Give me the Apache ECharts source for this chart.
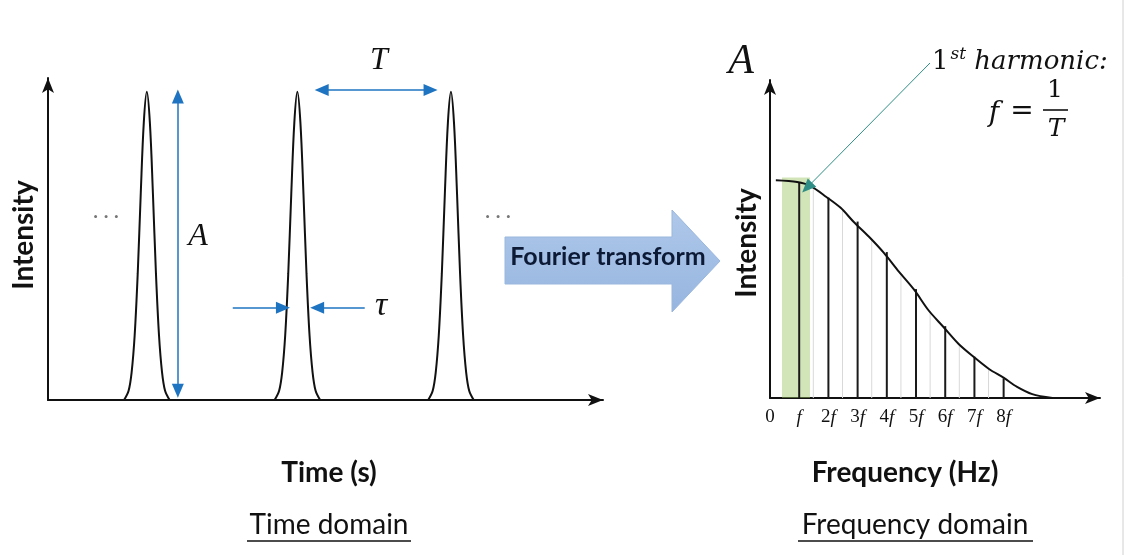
<!DOCTYPE html>
<html><head><meta charset="utf-8">
<script src="https://cdn.jsdelivr.net/npm/echarts@6/dist/echarts.min.js"></script>
<style>html,body{margin:0;padding:0;background:#fff}#c{width:1133px;height:555px}</style>
</head><body><div id="c"></div>
<script>
// ---- time domain (pulse train) ----
const pulseCenters = [0.65, 1.64, 2.65];
const pulseOffsets = [-0.15, -0.12, -0.10, -0.08, -0.06, -0.04, -0.02, 0, 0.02, 0.04, 0.06, 0.08, 0.10, 0.12, 0.15];
const pulseValues  = [0, 0.03, 0.09, 0.21, 0.41, 0.67, 0.90, 1, 0.90, 0.67, 0.41, 0.21, 0.09, 0.03, 0];
const amplitudeArrow = [[0.854, 0.03], [0.854, 0.985]];
const periodArrow = [[1.80, 1.006], [2.516, 1.006]];
const widthArrowLeft = [[1.215, 0.299], [1.545, 0.299]];
const widthArrowRight = [[2.083, 0.299], [1.77, 0.299]];
// ---- frequency domain (spectrum) ----
const harmonicLabels = ['0', 'f', '2f', '3f', '4f', '5f', '6f', '7f', '8f'];
const harmonicIndex  = [1, 2, 3, 4, 5, 6, 7, 8];
const harmonicValues = [0.99, 0.92, 0.81, 0.67, 0.50, 0.33, 0.19, 0.09];
const midIndex  = [1.5, 2.5, 3.5, 4.5, 5.5, 6.5, 7.5];
const midValues = [0.97, 0.86, 0.73, 0.57, 0.40, 0.245, 0.133];
const envelopeX = [0.2, 0.93, 1.38, 1.93, 2.42, 2.87, 3.39, 3.90, 4.42, 4.94, 5.42, 5.94, 6.46, 6.98, 7.50, 8.01, 8.46, 8.98, 9.67];
const envelopeY = [1.0, 0.992, 0.974, 0.923, 0.873, 0.808, 0.740, 0.666, 0.579, 0.496, 0.404, 0.326, 0.248, 0.188, 0.133, 0.092, 0.051, 0.018, 0];
const firstHarmonicBand = [0.41, 1.37, 1.012];
const firstHarmonicPoint = [1.27, 0.966];

const chart = echarts.init(document.getElementById('c'), null, {renderer: 'canvas'});

const blue = '#1f74c2';
const pulseSeries = pulseCenters.map((c, k) => ({
  type: 'line', xAxisIndex: 0, yAxisIndex: 0, symbol: 'none', smooth: 0.35,
  lineStyle: {color: '#111', width: 2},
  data: pulseOffsets.map((d, i) => [c + d, pulseValues[i]]),
  markLine: k === 0 ? {
    silent: true, symbol: ['triangle', 'triangle'], symbolSize: [12, 14],
    lineStyle: {color: blue, width: 1.5, type: 'solid'}, label: {show: false},
    data: [
      [{coord: amplitudeArrow[0]}, {coord: amplitudeArrow[1]}],
      [{coord: periodArrow[0]}, {coord: periodArrow[1]}],
      [{coord: widthArrowLeft[0], symbol: 'none'}, {coord: widthArrowLeft[1]}],
      [{coord: widthArrowRight[0], symbol: 'none'}, {coord: widthArrowRight[1]}]
    ]
  } : undefined
}));

const axisArrow = {show: true, symbol: ['none', 'arrow'], symbolSize: [9, 15], lineStyle: {color: '#111', width: 2}};
const bare = {axisTick: {show: false}, splitLine: {show: false}};

const font = 'Lato, "Open Sans", sans-serif';
const serif = '"Liberation Serif", "DejaVu Serif", serif';
const mserif = '"DejaVu Serif", serif';

function txt(x, y, text, f, fill, extra) {
  return Object.assign({type: 'text', x: x, y: y, silent: true,
    style: {text: text, font: f, fill: fill || '#111', align: 'center', verticalAlign: 'middle'}}, extra || {});
}
function ln(x1, y1, x2, y2, stroke, w) {
  return {type: 'line', silent: true, shape: {x1, y1, x2, y2}, style: {stroke: stroke, lineWidth: w}};
}

const option = {
  animation: false,
  backgroundColor: '#fff',
  grid: [
    {left: 48, top: 78, width: 555, height: 322},
    {left: 770, top: 80, width: 330, height: 318}
  ],
  xAxis: [
    Object.assign({type: 'value', gridIndex: 0, min: 0, max: 3.65, axisLine: axisArrow, axisLabel: {show: false}}, bare),
    Object.assign({type: 'value', gridIndex: 1, min: 0, max: 11.3, interval: 1, axisLine: axisArrow,
      axisLabel: {show: true, margin: 10, color: '#111', fontFamily: serif, fontSize: 19,
        formatter: v => {
          const s = harmonicLabels[Math.round(v)];
          if (s === undefined || Math.abs(v - Math.round(v)) > 1e-6) return '';
          if (s === '0') return '{n|0}';
          const num = s.slice(0, -1);
          return (num ? '{n|' + num + '}' : '') + '{i|f}';
        },
        rich: {n: {fontFamily: serif, fontSize: 19, color: '#111'}, i: {fontFamily: serif, fontStyle: 'italic', fontSize: 19, color: '#111'}}
      }}, bare)
  ],
  yAxis: [
    Object.assign({type: 'value', gridIndex: 0, min: 0, max: 1.045, axisLine: axisArrow, axisLabel: {show: false}}, bare),
    Object.assign({type: 'value', gridIndex: 1, min: 0, max: 1.46, axisLine: axisArrow, axisLabel: {show: false}}, bare)
  ],
  series: pulseSeries.concat([
    {
      type: 'bar', xAxisIndex: 1, yAxisIndex: 1, barWidth: 1, silent: true,
      itemStyle: {color: '#d9d9d9'},
      data: midIndex.map((x, i) => [x, midValues[i]])
    },
    {
      type: 'bar', xAxisIndex: 1, yAxisIndex: 1, barWidth: 2, barGap: '-100%', silent: true,
      itemStyle: {color: '#1a1a1a'},
      data: harmonicIndex.map((x, i) => [x, harmonicValues[i]]),
      markArea: {
        silent: true,
        itemStyle: {color: 'rgba(155,198,100,0.45)'},
        data: [[{coord: [firstHarmonicBand[0], 0]}, {coord: [firstHarmonicBand[1], firstHarmonicBand[2]]}]]
      },
      markLine: {
        silent: true, symbol: ['triangle', 'none'], symbolSize: [12, 14],
        lineStyle: {color: '#2f8f86', width: 1, type: 'solid'}, label: {show: false},
        data: [[{coord: firstHarmonicPoint, symbol: 'triangle', itemStyle: {color: '#3fae5e'}}, {x: 930, y: 63, symbol: 'none'}]]
      }
    },
    {
      type: 'line', xAxisIndex: 1, yAxisIndex: 1, symbol: 'none', smooth: 0.3, silent: true,
      lineStyle: {color: '#111', width: 2},
      data: envelopeX.map((x, i) => [x, envelopeY[i]])
    }
  ]),
  graphic: [
    // left panel texts
    txt(24, 235, 'Intensity', 'bold 28px ' + font, '#111', {rotation: Math.PI / 2}),
    txt(329, 473, 'Time (s)', 'bold 28px ' + font),
    txt(329, 525, 'Time domain', '28px ' + font),
    ln(247, 541, 411, 541, '#111', 1.5),
    txt(106, 216, '· · ·', '20px ' + font, '#777'),
    txt(498, 216, '· · ·', '20px ' + font, '#777'),
    txt(198, 237, 'A', 'italic 32px ' + serif),
    txt(379, 61, 'T', 'italic 32px ' + serif),
    txt(381, 306, 'τ', 'italic 34px ' + serif),
    // Fourier transform arrow
    {type: 'polygon', silent: true,
      shape: {points: [[505, 237], [672, 237], [672, 210], [720, 261], [672, 312], [672, 284], [505, 284]]},
      style: {fill: new echarts.graphic.LinearGradient(0, 0, 0, 1, [{offset: 0, color: '#afc8ea'}, {offset: 1, color: '#96b5df'}]),
        stroke: '#9ab7de', lineWidth: 1}},
    txt(608, 257, 'Fourier transform', 'bold 25px ' + font, '#0c1a36'),
    // right panel texts
    txt(747, 243, 'Intensity', 'bold 28px ' + font, '#111', {rotation: Math.PI / 2}),
    txt(905, 473, 'Frequency (Hz)', 'bold 28px ' + font),
    txt(915, 525, 'Frequency domain', '28px ' + font),
    ln(798, 541, 1033, 541, '#111', 1.5),
    txt(741, 62, 'A', 'italic 42px ' + serif),
    {type: 'text', x: 932, y: 62, silent: true,
      style: {text: '{n|1}{s|st}{h| harmonic:}', align: 'left', verticalAlign: 'middle',
        rich: {n: {font: '26px ' + mserif, fill: '#111'},
               s: {font: 'italic 17px ' + mserif, fill: '#111', verticalAlign: 'top', padding: [0, 0, 14, 2]},
               h: {font: 'italic 26px ' + mserif, fill: '#111'}}}},
    txt(994, 114, 'f', 'italic 28px ' + mserif),
    txt(1022, 112, '=', '28px ' + mserif),
    txt(1055, 90, '1', '25px ' + mserif),
    ln(1043, 110, 1068, 110, '#111', 1.6),
    txt(1056, 129, 'T', 'italic 25px ' + mserif),
    ln(1123, 0, 1123, 555, '#d0d0d0', 1)
  ]
};
chart.setOption(option);
</script>
</body></html>
